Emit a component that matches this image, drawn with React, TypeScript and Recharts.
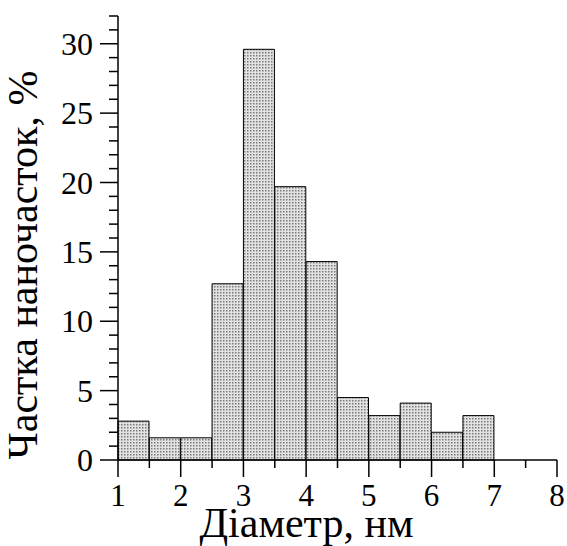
import { Bar, BarChart, Label, XAxis, YAxis } from "recharts";

// histogram bins (nm), 0.5 nm wide
const binStarts = [1, 1.5, 2, 2.5, 3, 3.5, 4, 4.5, 5, 5.5, 6, 6.5, 7, 7.5];
const shares = [2.8, 1.6, 1.6, 12.7, 29.6, 19.7, 14.3, 4.5, 3.2, 4.1, 2.0, 3.2, 0, 0];

const xTicks = [1, 1.5, 2, 2.5, 3, 3.5, 4, 4.5, 5, 5.5, 6, 6.5, 7, 7.5, 8];
const yTicks = [
  0, 1, 2, 3, 4, 5, 6, 7, 8, 9, 10, 11, 12, 13, 14, 15, 16, 17, 18, 19, 20,
  21, 22, 23, 24, 25, 26, 27, 28, 29, 30, 31, 32,
];

const xTitle = "Діаметр, нм";
const yTitle = "Частка наночасток, %";

const data = binStarts.map((start, i) => ({
  bin: `${start}–${start + 0.5}`,
  start,
  share: shares[i],
}));

const font = "Liberation Serif";

function XTick(props: any) {
  const { x, y, payload } = props;
  const major = Number.isInteger(payload.value);
  return (
    <g>
      <line x1={x} x2={x} y1={y} y2={y + (major ? 17 : 8)} stroke="#000" strokeWidth={1.5} />
      {major && (
        <text x={x} y={y + 46} textAnchor="middle" fill="#000" style={{ fontFamily: font, fontSize: 31 }}>
          {payload.value}
        </text>
      )}
    </g>
  );
}

function YTick(props: any) {
  const { x, y, payload } = props;
  const major = payload.value % 5 === 0;
  return (
    <g>
      <line x1={x - (major ? 18 : 9)} x2={x} y1={y} y2={y} stroke="#000" strokeWidth={1.5} />
      {major && (
        <text x={x - 25} y={y} dy="0.35em" textAnchor="end" fill="#000" style={{ fontFamily: font, fontSize: 32 }}>
          {payload.value}
        </text>
      )}
    </g>
  );
}

export default function App() {
  return (
    <div style={{ position: "absolute", left: 0, top: 0, background: "#fff" }}>
      <BarChart
        width={567}
        height={546}
        data={data}
        barCategoryGap={0}
        margin={{ top: 16, right: 10, bottom: 0, left: 0 }}
      >
        <defs>
          <pattern id="stipple" width="3" height="3" patternUnits="userSpaceOnUse">
            <rect width="3" height="3" fill="#e2e2e2" />
            <rect x="1" y="1" width="1.5" height="1.5" fill="#7a7a7a" />
          </pattern>
        </defs>
        <XAxis xAxisId="bins" dataKey="bin" hide height={0} />
        <XAxis
          xAxisId="num"
          dataKey="start"
          type="number"
          domain={[1, 8]}
          allowDataOverflow
          ticks={xTicks}
          interval={0}
          height={86}
          tickSize={0}
          tickMargin={0}
          tickLine={false}
          axisLine={{ stroke: "#000", strokeWidth: 1.5 }}
          tick={<XTick />}
        >
          <Label
            content={(p: any) => {
              const vb = p.viewBox;
              return (
                <text
                  x={vb.x + vb.width / 2 - 31}
                  y={vb.y + 77}
                  textAnchor="middle"
                  fill="#000"
                  style={{ fontFamily: font, fontSize: 42 }}
                >
                  {xTitle}
                </text>
              );
            }}
          />
        </XAxis>
        <YAxis
          type="number"
          domain={[0, 32]}
          ticks={yTicks}
          interval={0}
          width={118}
          tickSize={0}
          tickMargin={0}
          tickLine={false}
          axisLine={{ stroke: "#000", strokeWidth: 1.5 }}
          tick={<YTick />}
        >
          <Label
            content={(p: any) => {
              const vb = p.viewBox;
              const cy = vb.y + vb.height / 2 + 27;
              return (
                <text
                  x={37}
                  y={cy}
                  transform={`rotate(-90 37 ${cy})`}
                  textAnchor="middle"
                  fill="#000"
                  style={{ fontFamily: font, fontSize: 42 }}
                >
                  {yTitle}
                </text>
              );
            }}
          />
        </YAxis>
        <Bar
          xAxisId="bins"
          dataKey="share"
          fill="url(#stipple)"
          stroke="#000"
          strokeWidth={1}
          isAnimationActive={false}
        />
      </BarChart>
    </div>
  );
}
